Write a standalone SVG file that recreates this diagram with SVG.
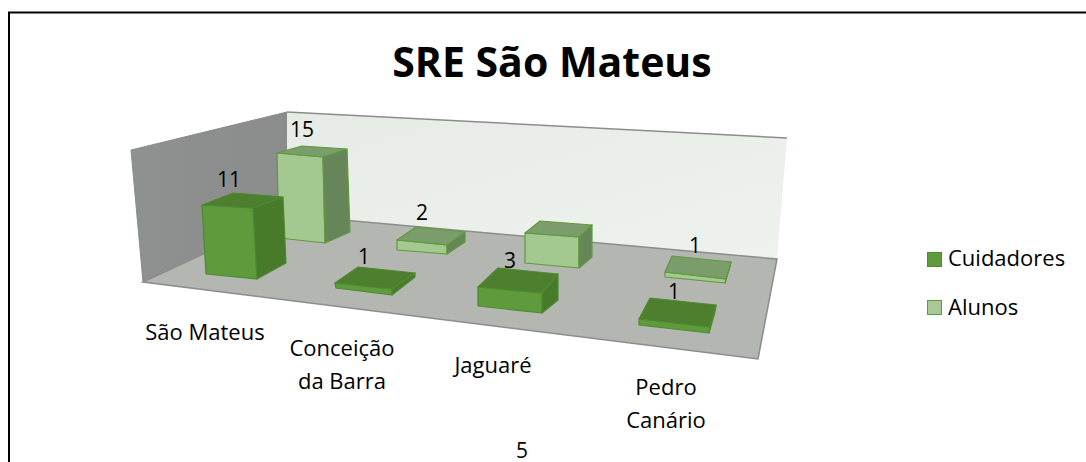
<svg xmlns="http://www.w3.org/2000/svg" width="1086" height="462" viewBox="0 0 1086 462">
<style>
text{font-family:"Open Sans","Liberation Sans",sans-serif;fill:#000}
.lbl{font-size:22px;text-anchor:middle}
.val{font-size:21px;text-anchor:middle}
.cf{fill:#5f9b3c;stroke:#4e8a31;stroke-width:1.2;stroke-linejoin:round}
.cs{fill:#477a29;stroke:#4e8a31;stroke-width:1.2;stroke-linejoin:round}
.ct{fill:#4d7f2e;stroke:#4e8a31;stroke-width:1.2;stroke-linejoin:round}
.af{fill:#a3c990;stroke:#5e9a3c;stroke-width:1.2;stroke-linejoin:round}
.as{fill:#66865a;stroke:#5e9a3c;stroke-width:1.2;stroke-linejoin:round}
.at{fill:#7b9d6b;stroke:#5e9a3c;stroke-width:1.2;stroke-linejoin:round}
</style>
<defs>
<linearGradient id="lw" x1="0" y1="0" x2="1" y2="0">
<stop offset="0" stop-color="#8e918f"/><stop offset="1" stop-color="#8a8d8b"/>
</linearGradient>
<linearGradient id="bw" x1="0" y1="0" x2="1" y2="1">
<stop offset="0" stop-color="#e6ece5"/><stop offset="1" stop-color="#eef2ed"/>
</linearGradient>
</defs>
<rect width="1086" height="462" fill="#fff"/>
<path d="M9,462 V12.5 H1086" fill="none" stroke="#000" stroke-width="2"/>
<text x="552" y="77" font-size="41" font-weight="bold" text-anchor="middle">SRE São Mateus</text>
<g id="walls">
<polygon points="131,150 287,112 287,215 143,282" fill="url(#lw)" stroke="#8a8c8a" stroke-width="1"/>
<polygon points="287,112 787,138 777,259 287,215" fill="url(#bw)" stroke="none"/>
<line x1="287" y1="112" x2="787" y2="138" stroke="#8c8c8c" stroke-width="1.5"/>
<polygon points="287,215 777,259 758,359 143,282" fill="#b3b6b1" stroke="#8c8c8c" stroke-width="1.5"/>
</g>
<g id="bar-sm-alunos">
<polygon class="af" points="277,153 323,157 325,243 279,238"/>
<polygon class="as" points="323,157 347,149 350,232 325,243"/>
<polygon class="at" points="277,153 323,157 347,149 302,146"/>
<text class="val" x="302" y="137">15</text>
</g>
<g id="bar-sm-cuidadores">
<polygon class="cf" points="202,205 253,208 257,279 206,274"/>
<polygon class="cs" points="253,208 283,197 286,263 257,279"/>
<polygon class="ct" points="202,205 253,208 283,197 233,193"/>
<text class="val" x="229" y="187">11</text>
</g>
<g id="bar-cb-alunos">
<polygon class="af" points="397,240 447,245 447,254 397,250"/>
<polygon class="as" points="447,245 465,232 465,242 447,254"/>
<polygon class="at" points="397,240 447,245 465,232 416,227"/>
<text class="val" x="422" y="220">2</text>
</g>
<g id="bar-cb-cuidadores">
<polygon class="cf" points="335,283 392,289 392,295 336,288"/>
<polygon class="cs" points="392,289 415,273 415,277 392,295"/>
<polygon class="ct" points="335,283 392,289 415,273 358,267"/>
<text class="val" x="364" y="264">1</text>
</g>
<g id="bar-jg-alunos">
<polygon class="af" points="525,233 579,237 579,268 525,263"/>
<polygon class="as" points="579,237 592,225 592,257 579,268"/>
<polygon class="at" points="525,233 579,237 592,225 540,221"/>
</g>
<g id="bar-jg-cuidadores">
<polygon class="cf" points="478,287 542,293 542,313 478,306"/>
<polygon class="cs" points="542,293 558,274 558,300 542,313"/>
<polygon class="ct" points="478,287 542,293 558,274 498,268"/>
<text class="val" x="510" y="268">3</text>
</g>
<g id="bar-pc-alunos">
<polygon class="af" points="665,272 726,279 725,283 665,277"/>
<polygon class="as" points="726,279 731,262 730,267 725,283"/>
<polygon class="at" points="665,272 726,279 731,262 672,256"/>
<text class="val" x="695" y="253">1</text>
</g>
<g id="bar-pc-cuidadores">
<polygon class="cf" points="639,319 710,327 709,333 639,325"/>
<polygon class="cs" points="710,327 716,305 715,312 709,333"/>
<polygon class="ct" points="639,319 710,327 716,305 650,298"/>
<text class="val" x="674" y="299">1</text>
</g>
<g id="axis-labels">
<text class="lbl" x="205" y="340">São Mateus</text>
<text class="lbl" x="342" y="356">Conceição</text>
<text class="lbl" x="342" y="389">da Barra</text>
<text class="lbl" x="493" y="373">Jaguaré</text>
<text class="lbl" x="666" y="395">Pedro</text>
<text class="lbl" x="666" y="428">Canário</text>
<text class="val" x="522" y="458">5</text>
</g>
<g id="legend">
<rect x="927.5" y="252.5" width="14" height="14" fill="#5f9b3c" stroke="#4e8a31"/>
<text x="948" y="266" font-size="22">Cuidadores</text>
<rect x="927.5" y="300.5" width="14" height="14" fill="#a6c995" stroke="#5e9a3c"/>
<text x="948" y="315" font-size="22">Alunos</text>
</g>
</svg>
